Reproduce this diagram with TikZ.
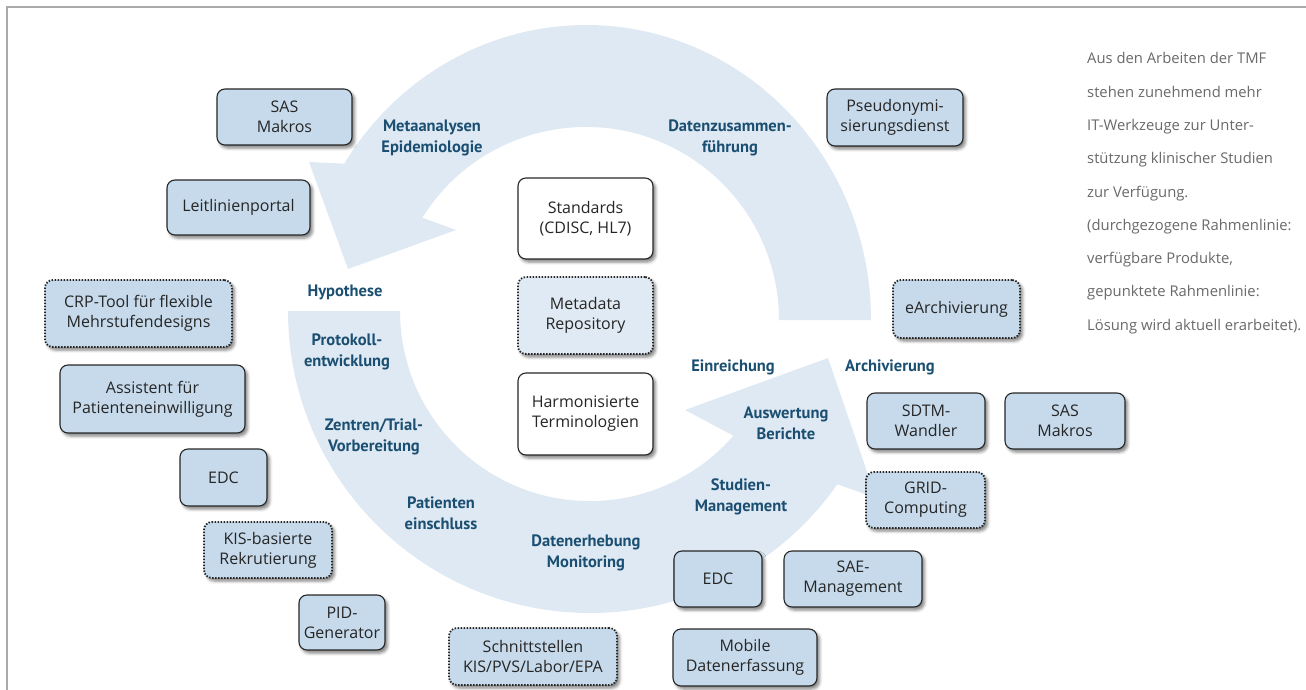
\documentclass[tikz,border=0pt]{standalone}
\usepackage{fontspec}
\setmainfont{Open Sans}
\newfontfamily\lblfamily{PT Sans}
\usetikzlibrary{shadows.blur}
\definecolor{arrowblue}{RGB}{223,233,243}
\definecolor{boxblue}{RGB}{198,218,235}
\definecolor{metablue}{RGB}{223,234,244}
\definecolor{lblblue}{RGB}{27,79,114}
\definecolor{framegray}{RGB}{170,170,170}
\definecolor{notegray}{RGB}{105,105,105}
\newcommand\toolfont{\fontsize{16}{20}\selectfont}
\newcommand\phasefont{\lblfamily\bfseries\fontsize{16.5}{21}\selectfont}
\newcommand\notefont{\fontsize{14.8}{18}\selectfont}
\tikzset{
  tool/.style={draw=black!85, line width=1.1pt, rounded corners=8pt, fill=boxblue,
    align=center, inner sep=0pt, font=\toolfont, text=black!85,
    blur shadow={shadow xshift=2.5pt, shadow yshift=-3pt, shadow blur radius=3pt, shadow opacity=50}},
  planned/.style={tool, line width=1.8pt, dash pattern=on 1.5pt off 1.5pt},
  core/.style={tool, fill=white},
  phase/.style={font=\phasefont, text=lblblue, align=center, inner sep=0pt},
  note/.style={font=\notefont, text=notegray, anchor=base west, inner sep=0pt},
  band/.style={fill=arrowblue, draw=none}
}
\begin{document}
\begin{tikzpicture}[x=1pt,y=-1pt]
\useasboundingbox (0,0) rectangle (1306,690);
% frame
\draw[framegray, line width=1.2pt] (1306,7) -- (7,7) -- (7,690);
% upper arrow (center 586,320)
\fill[band] (779,320) -- (871,320)
  arc[start angle=0, end angle=-148, x radius=285, y radius=295]
  -- (309,162) -- (348,269) -- (456,230) -- (422.3,217.7)
  arc[start angle=-148, end angle=0, radius=193] -- cycle;
% lower arrow (center 590,311)
\fill[band] (400,311) -- (288,311)
  arc[start angle=180, end angle=35, radius=302]
  -- (876,498) -- (828,358) -- (685,410) -- (733.4,435.7)
  arc[start angle=41, end angle=180, radius=190] -- cycle;
% tool boxes
\node[tool, minimum width=135pt, minimum height=56pt] (sas1) at (284.5,117) {SAS\\Makros};
\node[tool, minimum width=143pt, minimum height=55pt] (leit) at (238.5,207.5) {Leitlinienportal};
\node[planned, minimum width=187pt, minimum height=67pt] (crp) at (138.5,313.5) {CRP-Tool für flexible\\Mehrstufendesigns};
\node[tool, minimum width=185pt, minimum height=68pt] (assist) at (152.5,399) {Assistent für\\Patienteneinwilligung};
\node[tool, minimum width=87pt, minimum height=57pt] (edc1) at (223.5,477.5) {EDC};
\node[planned, minimum width=128pt, minimum height=56pt] (kis) at (268,550) {KIS-basierte\\Rekrutierung};
\node[tool, minimum width=86pt, minimum height=55pt] (pid) at (342,622.5) {PID-\\Generator};
\node[planned, minimum width=168pt, minimum height=57pt] (schnitt) at (533,656.5) {Schnittstellen\\KIS/PVS/Labor/EPA};
\node[tool, minimum width=144pt, minimum height=57pt] (mobile) at (745,657.5) {Mobile\\Datenerfassung};
\node[tool, minimum width=88pt, minimum height=56pt] (edc2) at (718,579) {EDC};
\node[tool, minimum width=138pt, minimum height=56pt] (sae) at (853,579) {SAE-\\Management};
\node[tool, minimum width=118pt, minimum height=56pt] (sdtm) at (926,421) {SDTM-\\Wandler};
\node[tool, minimum width=120pt, minimum height=56pt] (sas2) at (1065,421) {SAS\\Makros};
\node[planned, minimum width=119pt, minimum height=56pt] (grid) at (925.5,500) {GRID-\\Computing};
\node[planned, minimum width=127pt, minimum height=58pt] (earch) at (956.5,309) {eArchivierung};
\node[tool, minimum width=136pt, minimum height=57pt] (pseudo) at (895,117.5) {Pseudonymi-\\sierungsdienst};
% core boxes
\node[core, minimum width=135pt, minimum height=81pt] (std) at (585.5,218.5) {Standards\\(CDISC, HL7)};
\node[planned, fill=metablue, minimum width=135pt, minimum height=77pt] (meta) at (585.5,315.5) {Metadata\\Repository};
\node[core, minimum width=135pt, minimum height=82pt] (harm) at (585.5,414) {Harmonisierte\\Terminologien};
% phase labels
\node[phase] (p1) at (432,138) {Metaanalysen\\Epidemiologie};
\node[phase] (p2) at (730,138) {Datenzusammen-\\führung};
\node[phase] (p3) at (345,292) {Hypothese};
\node[phase] (p4) at (347,352) {Protokoll-\\entwicklung};
\node[phase] (p5) at (374,437) {Zentren/Trial-\\Vorbereitung};
\node[phase] (p6) at (441,513) {Patienten\\einschluss};
\node[phase] (p7) at (586,553) {Datenerhebung\\Monitoring};
\node[phase] (p8) at (741,497) {Studien-\\Management};
\node[phase] (p9) at (786,423) {Auswertung\\Berichte};
\node[phase] (p10) at (733,367) {Einreichung};
\node[phase] (p11) at (890,367) {Archivierung};
% note
\node[note] (n1) at (1087,64) {Aus den Arbeiten der TMF};
\node[note] (n2) at (1087,97.25) {stehen zunehmend mehr};
\node[note] (n3) at (1087,130.5) {IT-Werkzeuge zur Unter-};
\node[note] (n4) at (1087,163.75) {stützung klinischer Studien};
\node[note] (n5) at (1087,197) {zur Verfügung.};
\node[note] (n6) at (1087,230.25) {(durchgezogene Rahmenlinie:};
\node[note] (n7) at (1087,263.5) {verfügbare Produkte,};
\node[note] (n8) at (1087,296.75) {gepunktete Rahmenlinie:};
\node[note] (n9) at (1087,330) {Lösung wird aktuell erarbeitet).};
\end{tikzpicture}
\end{document}
